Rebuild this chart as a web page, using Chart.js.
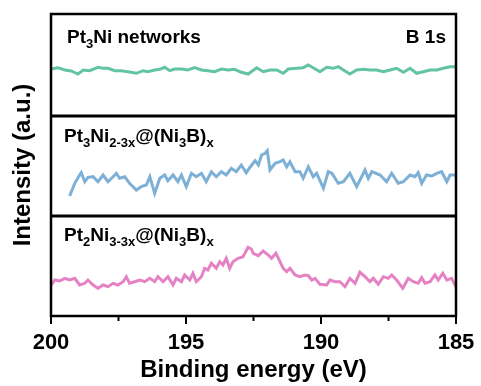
<!DOCTYPE html>
<html>
<head>
<meta charset="utf-8">
<script src="https://cdn.jsdelivr.net/npm/chart.js@4.4.1/dist/chart.umd.min.js"></script>
<style>
  html, body { margin: 0; padding: 0; background: #fff; }
  #wrap { width: 481px; height: 386px; position: relative; }
</style>
</head>
<body>
<div id="wrap"><canvas id="xps"></canvas></div>
<script>
// B 1s spectra, binding energy (eV) vs intensity (a.u.), one panel per sample
const energyNetworks = [200.00, 199.74, 199.49, 199.25, 199.00, 198.81, 198.57, 198.26, 198.07, 197.89, 197.64, 197.40, 197.15, 196.84, 196.59, 196.41, 196.16, 195.97, 195.79, 195.60, 195.42, 195.17, 194.93, 194.68, 194.43, 194.19, 193.94, 193.69, 193.44, 193.20, 192.95, 192.70, 192.38, 192.14, 191.89, 191.64, 191.40, 191.21, 190.90, 190.66, 190.47, 190.29, 190.04, 189.79, 189.54, 189.36, 189.17, 188.93, 188.68, 188.43, 188.19, 187.94, 187.69, 187.44, 187.20, 186.95, 186.70, 186.46, 186.21, 185.96, 185.71, 185.47, 185.22, 185.00];
const intensityNetworks = [47, 48.3, 46, 45, 42, 46, 45.3, 48.7, 47.7, 47.7, 45.3, 45.3, 44.3, 42.7, 45.3, 44.3, 46, 46.7, 48.7, 45.3, 47, 47, 46, 48.3, 46, 45.3, 44.3, 47, 46, 46.7, 43.7, 42, 48.3, 44.3, 46, 46, 42.7, 47, 47.7, 48.3, 51, 48.3, 44.3, 48.7, 47.7, 49.3, 46, 42, 46, 46.7, 46, 46, 44.3, 46, 47.7, 43.7, 47.7, 42.7, 44.3, 46, 46, 47.7, 49.3, 49.3];

const energyNi2 = [199.31, 199.12, 198.94, 198.88, 198.75, 198.63, 198.44, 198.26, 198.07, 197.89, 197.70, 197.58, 197.46, 197.27, 197.09, 196.84, 196.66, 196.47, 196.34, 196.16, 195.97, 195.79, 195.67, 195.48, 195.30, 195.17, 194.99, 194.80, 194.62, 194.43, 194.25, 194.06, 193.88, 193.69, 193.51, 193.32, 193.14, 192.95, 192.77, 192.62, 192.44, 192.32, 192.20, 192.07, 191.99, 191.89, 191.70, 191.52, 191.40, 191.27, 191.15, 190.96, 190.78, 190.66, 190.47, 190.29, 190.16, 189.91, 189.73, 189.60, 189.36, 189.17, 188.93, 188.68, 188.37, 188.25, 188.12, 187.81, 187.57, 187.38, 187.14, 186.95, 186.70, 186.52, 186.40, 186.27, 186.09, 185.90, 185.71, 185.53, 185.34, 185.22, 185.00];
const intensityNi2 = [20, 32.7, 41, 43.3, 34.3, 38.7, 39.3, 34.3, 41, 34.3, 39.3, 42.7, 37.7, 39.3, 32.7, 26, 29.3, 31, 39.3, 22.7, 37.7, 41, 35.3, 41, 34.3, 41, 29.3, 42.7, 39.3, 42.7, 34.3, 44.3, 39.3, 44.3, 41, 47.7, 44.3, 51, 43.3, 49, 55.3, 51, 61, 62.7, 65.3, 46, 52.7, 54.3, 56, 49.3, 54.3, 44.3, 44.3, 37.7, 49.3, 39.3, 42.7, 27.7, 44.3, 42.7, 32.7, 34.3, 42.7, 29.3, 46, 37.7, 44.3, 41, 34.3, 42.7, 32.7, 34.3, 41, 39.3, 43.3, 32.7, 41, 40, 42.7, 44.3, 34.3, 41, 41];

const energyNi3 = [200.00, 199.86, 199.68, 199.49, 199.31, 199.12, 198.94, 198.75, 198.63, 198.44, 198.26, 198.07, 197.89, 197.70, 197.52, 197.33, 197.21, 197.09, 196.90, 196.71, 196.53, 196.34, 196.16, 196.04, 195.85, 195.67, 195.48, 195.36, 195.17, 195.05, 194.86, 194.74, 194.62, 194.43, 194.31, 194.19, 194.06, 193.88, 193.75, 193.63, 193.51, 193.38, 193.26, 193.07, 192.89, 192.70, 192.58, 192.51, 192.32, 192.14, 191.95, 191.83, 191.67, 191.52, 191.40, 191.27, 191.15, 190.96, 190.78, 190.59, 190.47, 190.34, 190.22, 190.04, 189.79, 189.67, 189.48, 189.30, 189.11, 188.93, 188.74, 188.56, 188.37, 188.19, 188.06, 187.88, 187.69, 187.51, 187.38, 187.20, 186.97, 186.77, 186.58, 186.40, 186.27, 186.15, 185.96, 185.78, 185.66, 185.49, 185.34, 185.16, 185.00];
const intensityNi3 = [31, 36, 35, 37.7, 36, 37.7, 31, 32.7, 36, 31, 27.7, 31, 29.3, 32.7, 31, 34.3, 39.3, 32.7, 34.3, 36, 34.3, 37.7, 34.3, 39.3, 34.3, 39.3, 31, 37.7, 34.3, 41, 36, 42.7, 34.3, 39.3, 47.7, 46, 52.7, 47.7, 54.3, 51, 57.7, 47.7, 54.3, 57.7, 59.3, 68.7, 67, 62.7, 60.3, 65, 61, 57.7, 62.7, 54.3, 47.7, 44.3, 47.7, 41, 39.3, 41, 40.3, 36, 37.7, 31.7, 31, 36, 34.3, 34.3, 29.3, 37.7, 32.7, 43.7, 39.3, 34.3, 37.7, 31.7, 39.3, 37.7, 41, 36, 27.7, 37.7, 34.3, 32.7, 38.3, 32.7, 34.3, 41, 36, 42.7, 36, 37.7, 29.3];

const xTicks = [200, 195, 190, 185];

// panel captions, split into normal / subscript runs
const labelNetworks = [["Pt"], ["3", 1], ["Ni networks"]];
const labelNi2 = [["Pt"], ["3", 1], ["Ni"], ["2-3x", 1], ["@(Ni"], ["3", 1], ["B)"], ["x", 1]];
const labelNi3 = [["Pt"], ["2", 1], ["Ni"], ["3-3x", 1], ["@(Ni"], ["3", 1], ["B)"], ["x", 1]];
const coreLevel = "B 1s";

const FONT = '"Liberation Sans", Arial, Helvetica, sans-serif';
const toPoints = (xs, ys) => xs.map((x, i) => ({ x, y: ys[i] }));

const drawRich = (ctx, parts, x, y) => {
  parts.forEach(([text, sub]) => {
    ctx.font = sub ? `bold 13px ${FONT}` : `bold 19px ${FONT}`;
    ctx.fillText(text, x, sub ? y + 5 : y);
    x += ctx.measureText(text).width;
  });
};

const panelsPlugin = {
  id: "panels",
  afterDraw(chart) {
    const { ctx, chartArea: a, scales } = chart;
    const panels = [
      { scale: scales.yTop, label: labelNetworks, dx: 16, dy: 29 },
      { scale: scales.yMid, label: labelNi2, dx: 13, dy: 26 },
      { scale: scales.yBot, label: labelNi3, dx: 13, dy: 25 },
    ];
    ctx.save();
    ctx.strokeStyle = "#000";
    ctx.fillStyle = "#000";

    // frame and separators
    ctx.lineWidth = 2.5;
    ctx.strokeRect(a.left, a.top, a.right - a.left, a.bottom - a.top);
    ctx.lineWidth = 3;
    panels.forEach(({ scale }) => {
      if (scale.top - a.top < 2) return;
      ctx.beginPath();
      ctx.moveTo(a.left, scale.top);
      ctx.lineTo(a.right, scale.top);
      ctx.stroke();
    });

    // x ticks, major every 5 eV, minor in between
    ctx.lineWidth = 2;
    scales.x.ticks.forEach((t) => {
      const px = scales.x.getPixelForValue(t.value);
      const len = t.value % 5 === 0 ? 8 : 5;
      ctx.beginPath();
      ctx.moveTo(px, a.bottom);
      ctx.lineTo(px, a.bottom + len);
      ctx.stroke();
    });

    // captions
    ctx.textBaseline = "alphabetic";
    ctx.textAlign = "left";
    panels.forEach(({ scale, label, dx, dy }) => drawRich(ctx, label, a.left + dx, scale.top + dy));
    ctx.textAlign = "right";
    ctx.font = `bold 19px ${FONT}`;
    ctx.fillText(coreLevel, a.right - 10, scales.yTop.top + 29);

    // y title
    ctx.translate(23, (a.top + a.bottom) / 2);
    ctx.rotate(-Math.PI / 2);
    ctx.textAlign = "center";
    ctx.textBaseline = "middle";
    ctx.font = `bold 24px ${FONT}`;
    ctx.fillText("Intensity (a.u.)", 0, 0);
    ctx.restore();
  },
};

const hiddenY = (weight, max) => ({
  type: "linear",
  position: "left",
  stack: "panels",
  stackWeight: weight,
  min: 0,
  max,
  ticks: { display: false },
  grid: { display: false },
  border: { display: false },
  afterFit: (s) => { s.width = 51; },
});

new Chart(document.getElementById("xps"), {
  type: "line",
  data: {
    datasets: [
      { label: "Pt3Ni networks", data: toPoints(energyNetworks, intensityNetworks), yAxisID: "yTop", borderColor: "#62c4a0" },
      { label: "Pt3Ni2-3x@(Ni3B)x", data: toPoints(energyNi2, intensityNi2), yAxisID: "yMid", borderColor: "#7db0d6" },
      { label: "Pt2Ni3-3x@(Ni3B)x", data: toPoints(energyNi3, intensityNi3), yAxisID: "yBot", borderColor: "#e482c4" },
    ],
  },
  options: {
    responsive: true,
    maintainAspectRatio: false,
    animation: false,
    layout: { padding: { top: 14, right: 25, left: 0, bottom: 0 } },
    elements: { point: { radius: 0 }, line: { borderWidth: 3, tension: 0 } },
    plugins: { legend: { display: false }, tooltip: { enabled: false } },
    scales: {
      x: {
        type: "linear",
        reverse: true,
        min: 185,
        max: 200,
        grid: { display: false },
        border: { display: false },
        ticks: {
          stepSize: 2.5,
          autoSkip: false,
          maxRotation: 0,
          padding: 6,
          color: "#000",
          font: { family: FONT, size: 22, weight: "bold" },
          callback: (v) => (xTicks.includes(v) ? String(v) : ""),
        },
        title: {
          display: true,
          text: "Binding energy (eV)",
          color: "#000",
          padding: { top: 0, bottom: 1 },
          font: { family: FONT, size: 24, weight: "bold" },
        },
        afterFit: (s) => { s.height = 70; },
      },
      // stacked axes are laid out bottom-up in definition order
      yBot: hiddenY(100, 100),
      yMid: hiddenY(100, 100),
      yTop: hiddenY(102, 102),
    },
  },
  plugins: [panelsPlugin],
});
</script>
</body>
</html>
